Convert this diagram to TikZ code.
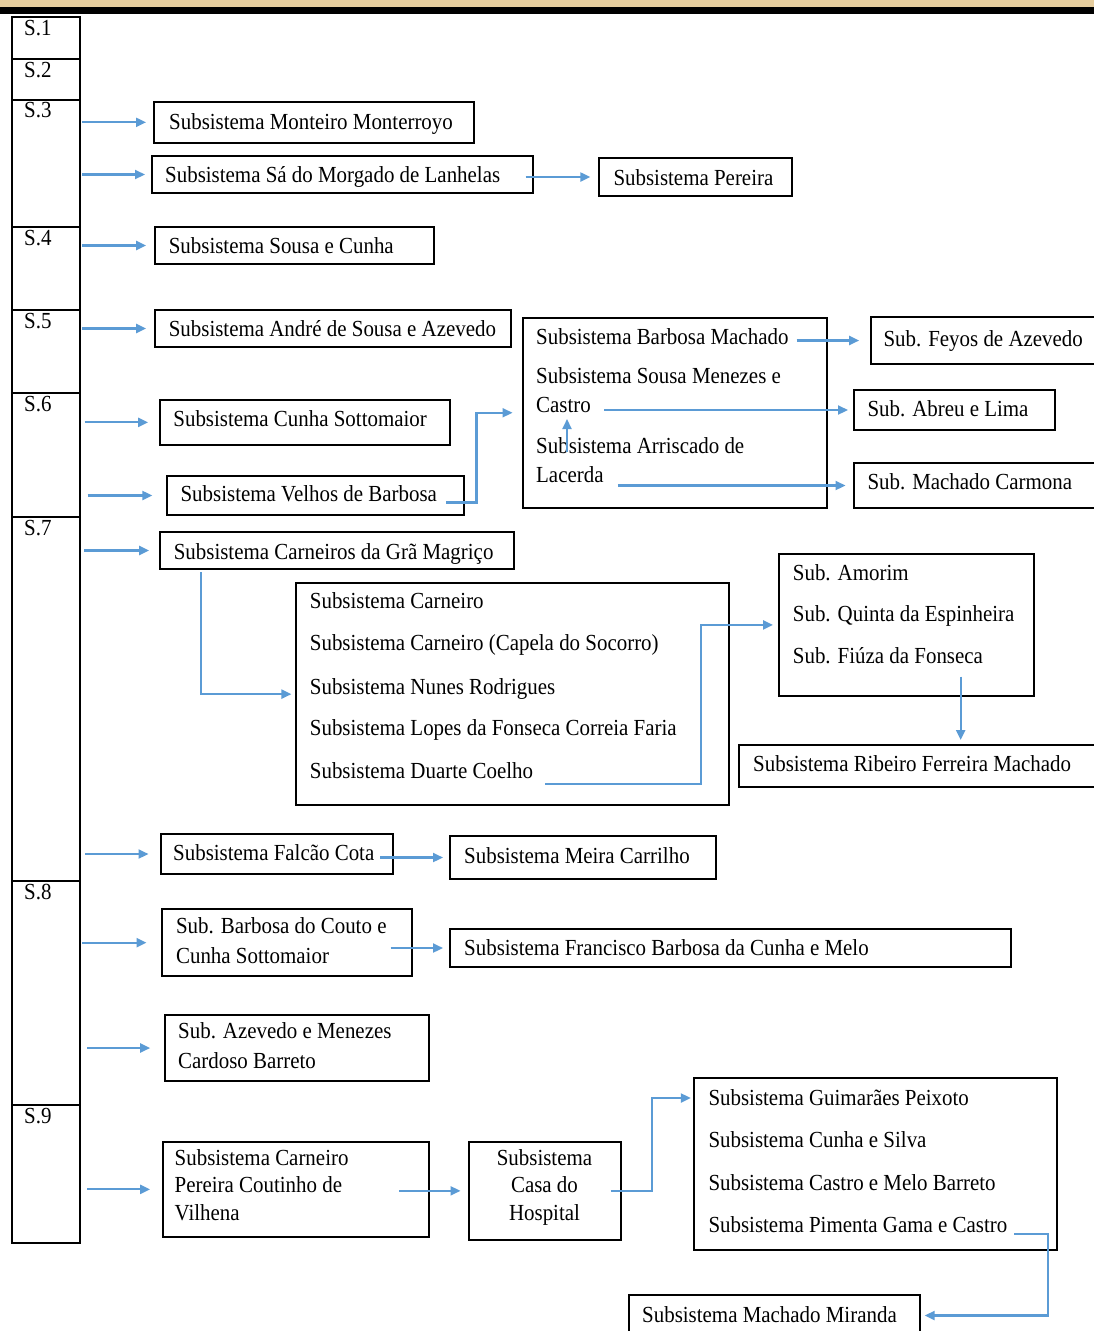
\documentclass[tikz,border=0pt]{standalone}
\usepackage{fontspec}
\setmainfont{Liberation Serif}[FakeStretch=0.91]
\usetikzlibrary{arrows.meta,calc}
\definecolor{arrblue}{RGB}{91,155,213}
\definecolor{tanbar}{RGB}{230,205,158}
\newcommand{\txtsz}{\fontsize{23}{29}\selectfont}
\newcommand{\bxat}[5]{\node[bx, minimum width={#4pt-#2pt}, minimum height={#5pt-#3pt}] (#1) at ({(#2+#4)/2},{(#3+#5)/2}) {};}
\newcommand{\txl}[4]{\node[tx] (#1) at (#2,#3) {#4};}
\begin{document}
\begin{tikzpicture}[x=1pt,y=-1pt,
  font=\txtsz,
  bx/.style={draw=black, line width=2pt, rectangle, inner sep=0pt, outer sep=0pt},
  tx/.style={anchor=base west, inner sep=0pt, text=black},
  txc/.style={anchor=base, inner sep=0pt, text=black},
  arr/.style={draw=arrblue, line width=2.2pt, -{Triangle[length=10pt,width=9pt]}}]
\useasboundingbox (0,0) rectangle (1094,1331);
\clip (0,0) rectangle (1094,1331);
\fill[white] (0,0) rectangle (1094,1331);
% top bar
\fill[tanbar] (0,0) rectangle (1094,6.5);
\fill[black] (0,6.5) rectangle (1094,14);
% left column
\bxat{s1}{12}{17}{80}{59.3}
\bxat{s2}{12}{59.3}{80}{99.5}
\bxat{s3}{12}{99.5}{80}{227}
\bxat{s4}{12}{227}{80}{310}
\bxat{s5}{12}{310}{80}{393}
\bxat{s6}{12}{393}{80}{517}
\bxat{s7}{12}{517}{80}{881}
\bxat{s8}{12}{881}{80}{1105}
\bxat{s9}{12}{1105}{80}{1242.5}
\node[tx] (l1) at ($(s1.north west)+(12,18)$) {S.1};
\node[tx] (l2) at ($(s2.north west)+(12,18)$) {S.2};
\node[tx] (l3) at ($(s3.north west)+(12,18)$) {S.3};
\node[tx] (l4) at ($(s4.north west)+(12,18)$) {S.4};
\node[tx] (l5) at ($(s5.north west)+(12,18)$) {S.5};
\node[tx] (l6) at ($(s6.north west)+(12,18)$) {S.6};
\node[tx] (l7) at ($(s7.north west)+(12,18)$) {S.7};
\node[tx] (l8) at ($(s8.north west)+(12,18)$) {S.8};
\node[tx] (l9) at ($(s9.north west)+(12,18)$) {S.9};
% boxes
\bxat{mont}{154}{102}{473.5}{142.7}
\bxat{sa}{152}{155.7}{532.5}{193.3}
\bxat{per}{599.3}{158}{791.7}{196}
\bxat{sousa}{154.6}{227}{434}{264}
\bxat{andre}{154.6}{310}{511}{347}
\bxat{cunhas}{159.6}{400}{450}{444.7}
\bxat{velhos}{166.8}{476}{464}{515}
\bxat{big1}{522.5}{317.5}{826.5}{508}
\bxat{feyos}{870.7}{317}{1110}{364}
\bxat{abreu}{854}{390}{1055}{430}
\bxat{carmona}{854}{463}{1110}{508}
\bxat{carn}{159.6}{531.7}{513.8}{569.3}
\bxat{big2}{296.4}{583.3}{729.4}{805}
\bxat{amorim}{779}{554.3}{1034}{695.5}
\bxat{ribeiro}{739}{745}{1110}{786.7}
\bxat{falcao}{160.5}{834}{393}{874}
\bxat{meira}{450}{836}{716}{879}
\bxat{bcouto}{162}{909.3}{411.7}{976}
\bxat{franc}{450}{929.3}{1010.5}{966.7}
\bxat{azev}{164.7}{1015}{428.5}{1081}
\bxat{cpv}{162.6}{1141.7}{428.5}{1237}
\bxat{casa}{469}{1141.7}{621}{1240}
\bxat{guim}{694.3}{1078.3}{1057}{1250}
\bxat{mm}{629.4}{1295}{919.7}{1336}
% texts
\txl{mont-t}{169}{129}{Subsistema Monteiro Monterroyo}
\txl{sa-t}{165}{182}{Subsistema Sá do Morgado de Lanhelas}
\txl{per-t}{613.3}{185}{Subsistema Pereira}
\txl{sousa-t}{168.6}{253}{Subsistema Sousa e Cunha}
\txl{andre-t}{168.6}{336}{Subsistema André de Sousa e Azevedo}
\txl{cunhas-t}{173.2}{426}{Subsistema Cunha Sottomaior}
\txl{velhos-t}{180.4}{501}{Subsistema Velhos de Barbosa}
\txl{bm1}{536}{344}{Subsistema Barbosa Machado}
\txl{bm2}{536}{383}{Subsistema Sousa Menezes e}
\txl{bm3}{536}{412}{Castro}
\txl{bm4}{536}{453}{Subsistema Arriscado de}
\txl{bm5}{536}{482}{Lacerda}
\txl{feyos-t}{883.3}{346}{Sub. Feyos de Azevedo}
\txl{abreu-t}{867.3}{416}{Sub. Abreu e Lima}
\txl{carmona-t}{867.3}{489}{Sub. Machado Carmona}
\txl{carn-t}{173.6}{559}{Subsistema Carneiros da Grã Magriço}
\txl{c1}{309.7}{608}{Subsistema Carneiro}
\txl{c2}{309.7}{650}{Subsistema Carneiro (Capela do Socorro)}
\txl{c3}{309.7}{694}{Subsistema Nunes Rodrigues}
\txl{c4}{309.7}{735}{Subsistema Lopes da Fonseca Correia Faria}
\txl{c5}{309.7}{778}{Subsistema Duarte Coelho}
\txl{a1}{792.7}{580}{Sub. Amorim}
\txl{a2}{792.7}{621}{Sub. Quinta da Espinheira}
\txl{a3}{792.7}{663}{Sub. Fiúza da Fonseca}
\txl{ribeiro-t}{753}{771}{Subsistema Ribeiro Ferreira Machado}
\txl{falcao-t}{173}{860}{Subsistema Falcão Cota}
\txl{meira-t}{464}{863}{Subsistema Meira Carrilho}
\txl{bc1}{175.9}{933}{Sub. Barbosa do Couto e}
\txl{bc2}{175.9}{963}{Cunha Sottomaior}
\txl{franc-t}{464}{955}{Subsistema Francisco Barbosa da Cunha e Melo}
\txl{az1}{178}{1038}{Sub. Azevedo e Menezes}
\txl{az2}{178}{1068}{Cardoso Barreto}
\txl{cp1}{174.5}{1165}{Subsistema Carneiro}
\txl{cp2}{174.5}{1192}{Pereira Coutinho de}
\txl{cp3}{174.5}{1220}{Vilhena}
\node[txc] (cs1) at (544.5,1165) {Subsistema};
\node[txc] (cs2) at (544.5,1192) {Casa do};
\node[txc] (cs3) at (544.5,1220) {Hospital};
\txl{g1}{708.3}{1105}{Subsistema Guimarães Peixoto}
\txl{g2}{708.3}{1147}{Subsistema Cunha e Silva}
\txl{g3}{708.3}{1190}{Subsistema Castro e Melo Barreto}
\txl{g4}{708.3}{1232}{Subsistema Pimenta Gama e Castro}
\txl{mm-t}{642}{1322}{Subsistema Machado Miranda}
% arrows from the column
\draw[arr, shorten >=8pt] ($(s3.east |- mont.west)+(2,0)$) -- (mont.west);
\draw[arr, shorten >=7pt] ($(s3.east |- sa.west)+(2,0)$) -- (sa.west);
\draw[arr, shorten >=8.5pt] ($(s4.east |- sousa.west)+(2,0)$) -- (sousa.west);
\draw[arr, shorten >=8.5pt] ($(s5.east |- andre.west)+(2,0)$) -- (andre.west);
\draw[arr, shorten >=11.5pt] ($(s6.east |- cunhas.west)+(4.5,0)$) -- (cunhas.west);
\draw[arr, shorten >=14.5pt] ($(s6.east |- velhos.west)+(7.5,0)$) -- (velhos.west);
\draw[arr, shorten >=10.5pt] ($(s7.east |- carn.west)+(4,0)$) -- (carn.west);
\draw[arr, shorten >=12pt] ($(s7.east |- falcao.west)+(5,0)$) -- (falcao.west);
\draw[arr, shorten >=15.5pt] ($(s8.east |- bcouto.west)+(2,0)$) -- (bcouto.west);
\draw[arr, shorten >=14.5pt] ($(s8.east |- azev.west)+(7,0)$) -- (azev.west);
\draw[arr, shorten >=12.5pt] ($(s9.east |- cpv.west)+(7,0)$) -- (cpv.west);
% other connectors
\draw[arr, shorten >=9pt] ($(sa.east |- per.west)+(-7,0)$) -- (per.west);
\draw[arr, shorten >=10pt] ($(velhos.east)+(-18,7)$) -| ($(big1.west)+(-46,0)$) -- (big1.west);
\draw[arr, shorten >=11.5pt] ($(bm1.east |- feyos.west)+(8,0)$) -- (feyos.west);
\draw[arr, shorten >=6pt] ($(bm3.east |- abreu.west)+(13,0)$) -- (abreu.west);
\draw[arr] ($(bm4.base west)+(31,-1)$) -- ($(bm3.base west)+(31,7)$);
\draw[arr, shorten >=8.5pt] ($(bm5.east |- carmona.west)+(14,0)$) -- (carmona.west);
\draw[arr, shorten >=5pt] ($(carn.south west)+(41,3)$) |- (big2.west);
\draw[arr, shorten >=6pt] ($(c5.base east)+(12,6)$) -| ($(amorim.west)+(-78,0)$) -- (amorim.west);
\coordinate (fz) at ($(amorim.south west)+(181.7,-19)$);
\draw[arr, shorten >=5pt] (fz) -- (fz |- ribeiro.north);
\draw[arr, shorten >=7pt] ($(falcao.east |- meira.west)+(-13,0)$) -- (meira.west);
\draw[arr, shorten >=7pt] ($(bcouto.east |- franc.west)+(-21,0)$) -- (franc.west);
\draw[arr, shorten >=8.5pt] ($(cpv.east |- casa.west)+(-29.5,0)$) -- (casa.west);
\coordinate (gin) at ($(guim.west |- g1.base west)+(0,-7)$);
\draw[arr, shorten >=3.5pt] ($(casa.east)+(-10.4,0)$) -| ($(gin)+(-42,0)$) -- (gin);
\draw[arr, shorten >=5pt] ($(g4.base east)+(7,2)$) -| ($(mm.east)+(128.3,0)$) -- (mm.east);
\end{tikzpicture}
\end{document}
